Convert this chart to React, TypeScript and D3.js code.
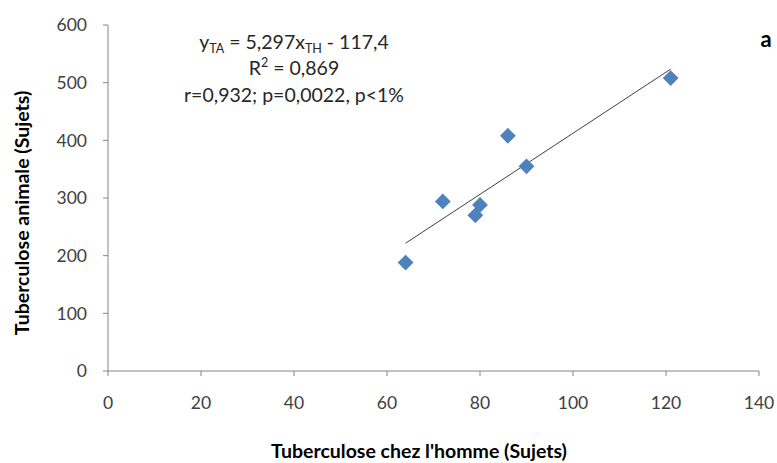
import * as d3 from 'd3'

// Human vs animal tuberculosis cases (subjects)
const humanCases = [64, 72, 79, 80, 86, 90, 121]
const animalCases = [188, 294, 270, 288, 408, 355, 508]

const xTicks = [0, 20, 40, 60, 80, 100, 120, 140]
const yTicks = [0, 100, 200, 300, 400, 500, 600]

// fitted line from the chart's equation
const slope = 5.297
const intercept = -117.4

const W = 777
const H = 463
const margin = { top: 25, right: 18, bottom: 92, left: 108 }
const font = 'Lato, "Open Sans", Arial, sans-serif'

export default function App() {
  const x = d3.scaleLinear().domain([0, 140]).range([margin.left, W - margin.right])
  const y = d3.scaleLinear().domain([0, 600]).range([H - margin.bottom, margin.top])

  const points = humanCases.map((h, i) => ({ h, a: animalCases[i] }))
  const xMin = d3.min(humanCases) as number
  const xMax = d3.max(humanCases) as number
  const trend = d3.line<number>()
    .x(d => x(d))
    .y(d => y(slope * d + intercept))([xMin, xMax])

  const diamond = d3.symbol().type(d3.symbolSquare).size(125)()

  const axisColor = '#868686'
  const textColor = '#404040'

  return (
    <svg width={W} height={H} style={{ position: 'absolute', left: 0, top: 0, background: '#fff' }}>
      {/* y axis */}
      <line x1={x(0)} x2={x(0)} y1={y(0)} y2={y(600)} stroke={axisColor} />
      {yTicks.map(t => (
        <g key={'y' + t}>
          <line x1={x(0) - 5} x2={x(0)} y1={y(t)} y2={y(t)} stroke={axisColor} />
          <text x={x(0) - 21} y={y(t)} dy="0.36em" textAnchor="end" fontFamily={font} fontSize={17.5} fill={textColor}>{t}</text>
        </g>
      ))}
      {/* x axis */}
      <line x1={x(0)} x2={x(140)} y1={y(0)} y2={y(0)} stroke={axisColor} />
      {xTicks.map(t => (
        <g key={'x' + t}>
          <line x1={x(t)} x2={x(t)} y1={y(0)} y2={y(0) + 5} stroke={axisColor} />
          <text x={x(t)} y={y(0) + 38} textAnchor="middle" fontFamily={font} fontSize={17.5} fill={textColor}>{t}</text>
        </g>
      ))}

      {/* axis titles */}
      <text x={419} y={458} textAnchor="middle" fontFamily={font} fontWeight="bold" fontSize={19.5} fill="#000">
        Tuberculose chez l'homme (Sujets)
      </text>
      <text transform={`translate(29,${(y(0) + y(600)) / 2 + 15}) rotate(-90)`} textAnchor="middle" fontFamily={font} fontWeight="bold" fontSize={19.5} fill="#000">
        Tuberculose animale (Sujets)
      </text>

      {/* trendline */}
      <path d={trend || ''} fill="none" stroke="#404040" strokeWidth={1} />

      {/* points */}
      {points.map((p, i) => (
        <path key={i} d={diamond || ''} transform={`translate(${x(p.h)},${y(p.a)}) rotate(45)`} fill="#4F81BD" />
      ))}

      {/* equation */}
      <g fontFamily={font} fontSize={19.5} fill="#262626" textAnchor="middle">
        <text x={294} y={49}>
          y<tspan fontSize={12.5} dy={4}>TA</tspan><tspan dy={-4}> = 5,297x</tspan><tspan fontSize={12.5} dy={4}>TH</tspan><tspan dy={-4}> - 117,4</tspan>
        </text>
        <text x={294} y={75}>
          R<tspan fontSize={12.5} dy={-8}>2</tspan><tspan dy={8}> = 0,869</tspan>
        </text>
        <text x={294} y={102}>r=0,932; p=0,0022, p&lt;1%</text>
      </g>

      <text x={766} y={47} textAnchor="middle" fontFamily={font} fontWeight="bold" fontSize={22} fill="#000">a</text>
    </svg>
  )
}
